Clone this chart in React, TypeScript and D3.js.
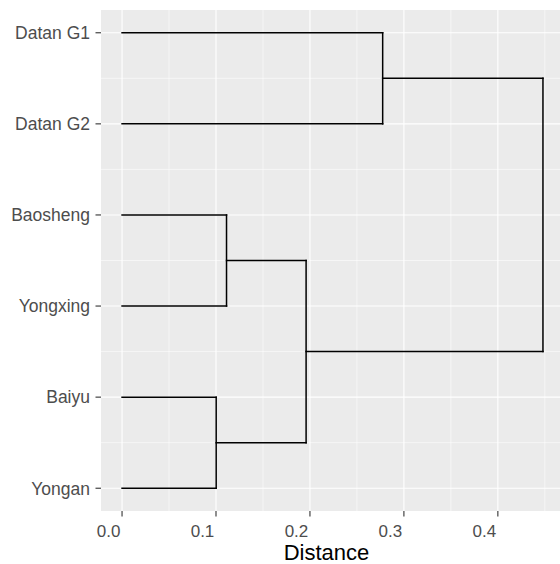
import React, { useEffect, useRef } from 'react';
import * as d3 from 'd3';

// leaves from bottom (position 1) to top (position 6)
const leaves = ['Yongan', 'Baiyu', 'Yongxing', 'Baosheng', 'Datan G2', 'Datan G1'];

// merges: [left, right, height]; negative = leaf index (1-based), positive = earlier merge
const merges: [number, number, number][] = [
  [-1, -2, 0.1002],
  [-3, -4, 0.1112],
  [1, 2, 0.1959],
  [-5, -6, 0.2774],
  [3, 4, 0.448],
];

const xTicks = [0, 0.1, 0.2, 0.3, 0.4];
const xMinor = [0.05, 0.15, 0.25, 0.35, 0.45];

function Dendrogram() {
  const ref = useRef<SVGSVGElement | null>(null);

  useEffect(() => {
    document.body.style.margin = '0';
    const svg = d3.select(ref.current);
    svg.selectAll('*').remove();

    const w = 560, h = 564;
    const left = 101, top = 10, right = 564, bottom = 511;

    const maxH = d3.max(merges, (d) => d[2]) as number;
    const padX = maxH * 0.05;
    const x = d3.scaleLinear().domain([-padX, maxH + padX]).range([left, right]);
    const y = d3.scaleLinear().domain([0.75, leaves.length + 0.25]).range([bottom, top]);

    svg.attr('width', w).attr('height', h);

    svg.append('rect')
      .attr('x', left).attr('y', top)
      .attr('width', right - left).attr('height', bottom - top)
      .attr('fill', '#EBEBEB');

    const yMinor = d3.range(1.5, leaves.length, 1);

    const grid = svg.append('g').attr('stroke', '#fff');
    grid.selectAll('.xmin').data(xMinor).enter().append('line')
      .attr('x1', (d) => x(d)).attr('x2', (d) => x(d))
      .attr('y1', top).attr('y2', bottom).attr('stroke-width', 0.55);
    grid.selectAll('.ymin').data(yMinor).enter().append('line')
      .attr('y1', (d) => y(d)).attr('y2', (d) => y(d))
      .attr('x1', left).attr('x2', right).attr('stroke-width', 0.55);
    grid.selectAll('.xmaj').data(xTicks).enter().append('line')
      .attr('x1', (d) => x(d)).attr('x2', (d) => x(d))
      .attr('y1', top).attr('y2', bottom).attr('stroke-width', 1.1);
    grid.selectAll('.ymaj').data(leaves).enter().append('line')
      .attr('y1', (d, i) => y(i + 1)).attr('y2', (d, i) => y(i + 1))
      .attr('x1', left).attr('x2', right).attr('stroke-width', 1.1);

    // build segments from merges
    const segs: [number, number, number, number][] = [];
    const nodePos: { pos: number; height: number }[] = [];
    const getNode = (k: number) => (k < 0 ? { pos: -k, height: 0 } : nodePos[k - 1]);
    merges.forEach(([a, b, hgt]) => {
      const na = getNode(a), nb = getNode(b);
      segs.push([na.height, na.pos, hgt, na.pos]);
      segs.push([nb.height, nb.pos, hgt, nb.pos]);
      segs.push([hgt, na.pos, hgt, nb.pos]);
      nodePos.push({ pos: (na.pos + nb.pos) / 2, height: hgt });
    });

    svg.append('g').selectAll('line').data(segs).enter().append('line')
      .attr('x1', (d) => x(d[0])).attr('y1', (d) => y(d[1]))
      .attr('x2', (d) => x(d[2])).attr('y2', (d) => y(d[3]))
      .attr('stroke', '#000').attr('stroke-width', 1.5)
      .attr('stroke-linecap', 'square');

    const font = 'Liberation Sans, Arial, Helvetica, sans-serif';

    // y axis
    const ya = svg.append('g');
    ya.selectAll('line').data(leaves).enter().append('line')
      .attr('x1', left - 5.5).attr('x2', left)
      .attr('y1', (d, i) => y(i + 1)).attr('y2', (d, i) => y(i + 1))
      .attr('stroke', '#333').attr('stroke-width', 1.1);
    ya.selectAll('text').data(leaves).enter().append('text')
      .attr('x', left - 11).attr('y', (d, i) => y(i + 1))
      .attr('dy', '0.36em').attr('text-anchor', 'end')
      .attr('font-family', font).attr('font-size', 17.5).attr('fill', '#4D4D4D')
      .text((d) => d);

    // x axis
    const xa = svg.append('g');
    xa.selectAll('line').data(xTicks).enter().append('line')
      .attr('x1', (d) => x(d)).attr('x2', (d) => x(d))
      .attr('y1', bottom).attr('y2', bottom + 5.5)
      .attr('stroke', '#333').attr('stroke-width', 1.1);
    xa.selectAll('text').data(xTicks).enter().append('text')
      .attr('x', (d) => x(d) - 13.5).attr('y', 536.5)
      .attr('text-anchor', 'middle')
      .attr('font-family', font).attr('font-size', 17).attr('fill', '#4D4D4D')
      .text((d) => d3.format('.1f')(d));

    svg.append('text')
      .attr('x', 326.5).attr('y', 559.5)
      .attr('text-anchor', 'middle')
      .attr('font-family', font).attr('font-size', 22).attr('fill', '#000')
      .text('Distance');
  }, []);

  return <svg ref={ref} style={{ display: 'block' }}></svg>;
}

export default function App() {
  return <Dendrogram />;
}
